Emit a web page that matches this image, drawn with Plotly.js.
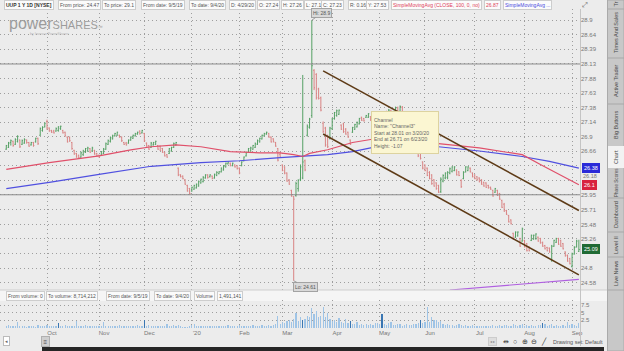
<!DOCTYPE html>
<html><head><meta charset="utf-8">
<script src="https://cdn.plot.ly/plotly-3.0.1.min.js"></script>
<style>html,body{margin:0;padding:0;background:#ececec;overflow:hidden}#chart{width:624px;height:351px}</style>
</head><body><div id="chart"></div>
<script>
// ---- data (daily bars, 9/5/19 .. 9/4/20) ----
const opens=[
26.69,26.72,26.80,26.82,26.77,26.82,26.84,26.77,26.79,26.84,
26.80,26.76,26.80,26.81,26.87,26.92,27.00,27.06,27.15,27.04,
27.00,26.99,26.99,27.00,27.03,27.00,26.97,26.89,26.88,26.80,
26.67,26.62,26.59,26.56,26.60,26.64,26.66,26.70,26.66,26.67,
26.62,26.59,26.59,26.62,26.69,26.77,26.82,26.86,26.91,26.92,
26.92,26.89,26.80,26.79,26.79,26.84,26.87,26.91,26.94,26.99,
26.96,26.95,26.79,26.75,26.72,26.76,26.77,26.75,26.74,26.70,
26.64,26.60,26.62,26.66,26.72,26.76,26.38,26.27,26.25,26.19,
26.10,26.05,26.01,26.04,26.06,26.09,26.14,26.16,26.22,26.27,
26.24,26.25,26.22,26.26,26.29,26.32,26.35,26.40,26.45,26.46,
26.42,26.43,26.42,26.38,26.42,26.50,26.58,26.64,26.66,26.69,
26.72,26.77,26.81,26.86,26.91,26.94,26.95,26.89,26.86,26.80,
26.70,26.60,26.43,26.40,26.30,26.19,26.02,25.92,25.94,26.05,
26.20,26.22,26.50,26.92,27.05,27.25,28.02,27.95,27.70,27.55,
27.12,27.04,26.90,26.87,27.03,27.20,27.25,27.27,27.09,27.11,
27.02,26.97,26.84,26.97,27.02,27.06,27.11,27.22,27.20,27.22,
27.22,27.23,27.17,27.24,27.20,27.04,27.13,27.22,27.30,27.25,
27.33,27.24,27.30,27.38,27.32,27.39,27.24,27.14,27.26,27.17,
27.04,26.88,26.70,26.62,26.48,26.43,26.38,26.31,26.27,26.19,
26.14,26.10,26.00,26.17,26.22,26.23,26.30,26.33,26.34,26.35,
26.32,26.18,26.21,26.32,26.34,26.38,26.30,26.27,26.24,26.22,
26.19,26.15,26.14,26.10,26.07,26.02,25.99,26.02,25.97,25.86,
25.80,25.70,25.62,25.55,25.34,25.28,25.30,25.26,25.22,25.23,
25.18,25.13,25.23,25.25,25.26,25.28,25.26,25.20,25.15,25.12,
25.11,24.93,25.14,25.20,25.26,25.23,25.18,25.05,25.00,24.95,
24.83,25.02,25.13,25.06];
const highs=[
26.76,26.81,26.85,26.83,26.87,26.92,26.85,26.85,26.87,26.85,
26.81,26.81,26.81,26.88,26.88,27.05,27.07,27.13,27.18,27.05,
27.01,27.01,27.05,27.07,27.08,27.01,26.98,26.90,26.90,26.81,
26.68,26.63,26.60,26.65,26.68,26.71,26.73,26.71,26.73,26.68,
26.63,26.60,26.66,26.71,26.80,26.85,26.90,26.93,26.96,26.98,
26.93,26.90,26.81,26.81,26.85,26.90,26.93,26.96,26.98,27.00,
27.01,26.96,26.80,26.76,26.81,26.81,26.83,26.76,26.75,26.71,
26.65,26.61,26.71,26.73,26.80,26.81,26.39,26.28,26.26,26.20,
26.11,26.06,26.08,26.11,26.13,26.18,26.21,26.25,26.28,26.28,
26.28,26.26,26.29,26.33,26.33,26.39,26.43,26.47,26.49,26.47,
26.47,26.44,26.43,26.39,26.49,26.57,26.65,26.71,26.73,26.76,
26.80,26.85,26.88,26.93,26.96,26.98,26.96,26.90,26.87,26.81,
26.71,26.65,26.44,26.41,26.31,26.20,26.03,25.93,26.16,26.20,
26.44,27.94,26.52,27.10,27.21,28.90,28.04,27.97,27.72,27.57,
27.15,27.06,26.93,27.06,27.21,27.31,27.35,27.35,27.10,27.13,
27.04,26.98,26.85,27.06,27.11,27.15,27.21,27.23,27.21,27.26,
27.29,27.24,27.23,27.26,27.22,27.15,27.25,27.32,27.33,27.36,
27.35,27.33,27.40,27.40,27.42,27.41,27.26,27.28,27.28,27.18,
27.05,26.90,26.72,26.63,26.49,26.44,26.39,26.33,26.28,26.20,
26.15,26.11,26.23,26.28,26.31,26.33,26.39,26.41,26.41,26.36,
26.33,26.20,26.33,26.41,26.41,26.39,26.31,26.28,26.25,26.23,
26.20,26.16,26.15,26.11,26.08,26.03,26.06,26.03,25.98,25.87,
25.82,25.71,25.63,25.56,25.35,25.37,25.37,25.27,25.43,25.24,
25.19,25.14,25.32,25.32,25.34,25.29,25.27,25.21,25.16,25.13,
25.12,25.16,25.24,25.27,25.27,25.24,25.19,25.06,25.01,24.96,
25.04,25.14,25.24,25.24];
const lows=[
26.68,26.71,26.75,26.73,26.76,26.80,26.71,26.76,26.78,26.78,
26.73,26.75,26.73,26.80,26.76,26.91,26.98,27.05,27.01,26.98,
26.96,26.95,26.98,26.98,27.01,26.95,26.90,26.80,26.81,26.68,
26.60,26.55,26.54,26.55,26.58,26.63,26.65,26.63,26.65,26.60,
26.57,26.55,26.58,26.61,26.68,26.76,26.80,26.85,26.90,26.91,
26.88,26.81,26.76,26.75,26.78,26.83,26.86,26.90,26.93,26.93,
26.95,26.81,26.73,26.68,26.71,26.75,26.76,26.68,26.66,26.63,
26.57,26.55,26.61,26.65,26.71,26.75,26.25,26.23,26.20,26.11,
26.00,25.95,26.00,26.03,26.05,26.08,26.13,26.15,26.21,26.21,
26.23,26.20,26.21,26.25,26.28,26.31,26.34,26.39,26.44,26.41,
26.41,26.39,26.36,26.28,26.41,26.49,26.57,26.63,26.65,26.68,
26.71,26.76,26.80,26.85,26.90,26.93,26.88,26.80,26.80,26.73,
26.49,26.55,26.33,26.28,26.16,26.11,25.92,24.61,25.92,26.00,
26.17,26.20,26.33,26.90,27.03,27.21,27.68,27.52,27.52,27.32,
26.96,26.73,26.71,26.85,27.01,27.18,27.23,27.26,27.01,26.96,
26.93,26.88,26.76,26.96,27.01,27.05,27.10,27.16,27.15,27.21,
27.21,27.16,27.16,27.10,27.05,27.02,27.12,27.20,27.22,27.23,
27.22,27.22,27.29,27.30,27.30,27.22,27.12,27.12,27.15,27.02,
26.88,26.70,26.56,26.52,26.36,26.33,26.25,26.20,26.11,26.08,
26.03,25.98,25.98,26.15,26.20,26.20,26.28,26.31,26.33,26.26,
26.25,26.06,26.20,26.31,26.33,26.31,26.23,26.20,26.18,26.15,
26.11,26.08,26.06,26.05,26.03,25.92,25.98,25.93,25.87,25.74,
25.68,25.63,25.51,25.48,25.24,25.27,25.29,25.13,25.21,25.12,
25.06,25.06,25.22,25.24,25.24,25.21,25.18,25.13,25.09,25.06,
25.04,24.90,25.13,25.19,25.16,25.13,25.09,24.98,24.90,24.86,
24.81,25.01,25.12,25.05];
const closes=[
26.75,26.79,26.83,26.75,26.85,26.90,26.73,26.83,26.85,26.80,
26.74,26.80,26.75,26.87,26.78,27.03,27.05,27.12,27.04,26.99,
26.97,26.96,27.03,27.06,27.07,26.96,26.91,26.81,26.83,26.70,
26.61,26.56,26.55,26.63,26.66,26.70,26.71,26.64,26.71,26.61,
26.58,26.56,26.65,26.69,26.78,26.83,26.88,26.91,26.95,26.97,
26.89,26.83,26.77,26.76,26.84,26.89,26.92,26.95,26.97,26.95,
27.00,26.83,26.74,26.69,26.79,26.80,26.82,26.69,26.67,26.64,
26.58,26.56,26.70,26.72,26.78,26.80,26.27,26.24,26.21,26.12,
26.01,25.97,26.07,26.10,26.12,26.16,26.20,26.23,26.27,26.23,
26.27,26.21,26.28,26.31,26.32,26.38,26.41,26.46,26.48,26.42,
26.46,26.40,26.37,26.30,26.48,26.56,26.63,26.70,26.71,26.75,
26.78,26.83,26.87,26.92,26.95,26.97,26.89,26.81,26.82,26.74,
26.51,26.56,26.34,26.30,26.17,26.12,25.93,25.88,26.13,26.18,
26.40,26.48,26.35,27.07,27.19,28.10,27.72,27.55,27.54,27.34,
26.98,26.76,26.73,27.04,27.19,27.30,27.33,27.34,27.02,26.98,
26.94,26.89,26.77,27.05,27.10,27.13,27.20,27.17,27.16,27.25,
27.28,27.17,27.22,27.23,27.07,27.13,27.23,27.30,27.25,27.34,
27.24,27.31,27.38,27.32,27.40,27.24,27.14,27.26,27.17,27.04,
26.90,26.72,26.58,26.54,26.38,26.34,26.26,26.21,26.13,26.09,
26.05,25.99,26.20,26.26,26.30,26.31,26.37,26.40,26.40,26.27,
26.26,26.08,26.31,26.40,26.40,26.32,26.24,26.21,26.19,26.16,
26.12,26.09,26.07,26.06,26.04,25.93,26.05,25.94,25.88,25.75,
25.69,25.64,25.52,25.49,25.25,25.36,25.36,25.14,25.41,25.13,
25.07,25.07,25.31,25.31,25.33,25.22,25.19,25.14,25.10,25.07,
25.05,25.14,25.23,25.26,25.17,25.14,25.10,24.99,24.91,24.87,
25.02,25.12,25.22,25.09];
// volume in millions
const volumes=[
0.6,0.9,0.5,0.7,0.8,1.8,0.6,0.5,0.7,0.4,
0.6,0.8,0.5,0.4,0.9,0.6,0.7,0.5,1.0,0.6,
0.8,0.7,0.5,1.5,0.7,0.6,0.9,0.5,0.8,0.7,
0.6,2.3,0.8,0.7,0.5,0.9,0.6,0.8,0.5,0.7,
0.6,0.8,0.7,2.0,0.5,0.6,0.8,0.5,0.6,0.7,
0.9,0.5,0.6,0.8,0.5,0.7,0.6,0.5,0.9,0.6,
0.8,2.6,0.7,0.9,0.6,0.5,0.8,0.6,0.7,0.5,
0.7,1.4,0.6,0.5,0.9,0.6,1.1,0.5,0.4,0.3,
0.4,0.6,0.9,1.4,0.6,0.7,0.5,0.8,0.6,0.5,
0.7,0.6,0.5,0.8,0.6,0.7,0.5,0.6,0.9,0.5,
0.6,0.8,0.7,0.9,0.5,0.6,0.8,0.7,0.6,0.9,
0.7,0.6,0.8,0.9,0.7,0.6,1.0,0.8,0.9,1.2,
4.0,1.2,2.0,1.5,2.2,2.5,2.0,3.0,5.0,2.2,
3.5,2.5,2.8,4.0,3.5,6.5,4.5,5.5,3.5,4.0,
7.0,3.5,4.8,3.0,2.2,2.5,1.8,3.2,2.0,1.6,
2.8,1.5,2.2,1.3,1.2,1.8,1.0,1.4,1.1,1.3,
1.0,1.2,0.9,1.5,1.5,1.3,4.5,1.2,1.0,1.6,
2.0,1.1,0.9,1.3,1.2,0.8,1.0,1.4,0.9,1.1,
1.3,1.2,1.6,2.7,1.5,1.8,6.7,2.0,3.7,2.5,
2.5,1.8,2.2,1.2,1.0,1.4,0.9,1.1,0.8,1.0,
1.2,0.9,0.7,1.1,0.8,0.6,0.9,0.5,0.7,0.6,
0.8,0.5,0.6,0.7,0.5,0.9,0.6,0.8,1.0,0.7,
0.9,1.1,0.8,0.6,1.3,0.9,0.7,1.0,1.2,0.8,
0.9,0.7,1.0,0.8,0.6,1.1,0.9,1.5,1.3,0.7,
1.0,1.4,0.8,0.9,0.7,0.6,1.0,0.8,1.8,0.9,
1.2,1.0,0.8,1.5];
const darkVolumeBars=[23,61,131,152,166,183,237];

const monthTickIdx=[18,41,61,82,103,122,144,165,185,207,229,250];
const monthTickText=['Oct','Nov','Dec',"'20",'Feb','Mar','Apr','May','Jun','Jul','Aug','Sep'];
// grid levels of the price pane; labels under the value boxes are hidden there
const priceTicks=[28.9,28.64,28.39,28.13,27.88,27.63,27.38,27.14,26.9,26.66,26.42,26.18,25.95,25.71,25.48,25.26,25.03,24.8,24.58];
const hiddenPriceLabels=[26.42,26.18,25.03];
const volumeTicks=[2.5,5,7.5];

const sma100Idx=[0,19,41,55,64,75,86,99,112,121,127,131,134,142,153,161,174,191,209,228,236,245,253];
const sma100Val=[26.36,26.47,26.58,26.68,26.73,26.76,26.73,26.65,26.63,26.63,26.60,26.57,26.62,26.68,26.80,26.85,26.87,26.78,26.71,26.60,26.44,26.26,26.11];
const sma200Idx=[0,19,41,64,86,103,121,131,142,153,161,174,191,209,228,240,253];
const sma200Val=[26.05,26.15,26.28,26.41,26.47,26.50,26.55,26.57,26.60,26.65,26.71,26.75,26.73,26.66,26.57,26.49,26.38];
const lowerStudyIdx=[196,230,253];
const lowerStudyVal=[24.47,24.56,24.63];
const channelIdx=[140,253];
const channelUpper=[28.01,25.70];
const channelLower=[26.94,24.70];
const levelLines=[28.13,25.95];

// ---- drawing ----
const F='"Liberation Sans", Arial, sans-serif';
const W=624,H=351;
const PX=x=>x/W, PY=y=>1-y/H;
const X_RANGE=[-2.78,253.5];
const idx=closes.map((_,i)=>i);
const L10=v=>Math.log10(v);

const traces=[];
levelLines.forEach(v=>traces.push({type:'scatter',mode:'lines',x:X_RANGE,y:[v,v],line:{color:'#8a8a8a',width:1},hoverinfo:'skip'}));
traces.push({type:'scatter',mode:'lines',x:sma200Idx,y:sma200Val,line:{color:'#5050e0',width:1.2},hoverinfo:'skip'});
traces.push({type:'scatter',mode:'lines',x:sma100Idx,y:sma100Val,line:{color:'#e0506a',width:1.2},hoverinfo:'skip'});
traces.push({type:'scatter',mode:'lines',x:lowerStudyIdx,y:lowerStudyVal,line:{color:'#b060e0',width:1.2},hoverinfo:'skip'});
traces.push({type:'ohlc',x:idx,open:opens,high:highs,low:lows,close:closes,xaxis:'x',yaxis:'y',
  increasing:{line:{color:'#55a064',width:1}},decreasing:{line:{color:'#d98383',width:1}},tickwidth:0.4,hoverinfo:'skip'});
traces.push({type:'scatter',mode:'lines',x:channelIdx,y:channelUpper,line:{color:'#5e3b17',width:1.6},hoverinfo:'skip'});
traces.push({type:'scatter',mode:'lines',x:channelIdx,y:channelLower,line:{color:'#5e3b17',width:1.6},hoverinfo:'skip'});
traces.push({type:'bar',x:idx,y:volumes,xaxis:'x',yaxis:'y2',width:0.55,
  marker:{color:idx.map(i=>darkVolumeBars.includes(i)?'#3a76b2':'#9fc4e6'),line:{width:0}},hoverinfo:'skip'});

const ann=[];
const NOBOX={bg:'rgba(0,0,0,0)',border:'rgba(0,0,0,0)',bw:0,pad:0};
function box(x,y,text,o){o=o||{};ann.push({xref:'paper',yref:'paper',x:PX(x),y:PY(y),xanchor:'left',yanchor:'middle',text:text,showarrow:false,
  font:{size:o.size||5,color:o.color||'#555',family:F},bgcolor:o.bg===undefined?'#fbfbfb':o.bg,bordercolor:o.border===undefined?'#cdcdcd':o.border,
  borderwidth:o.bw===undefined?1:o.bw,borderpad:o.pad===undefined?1:o.pad});}

// header row
[['<b>UUP 1 Y 1D [NYSE]</b>',4,'#333'],['From price: 24.47',58],['To price: 29.1',102],['From date: 9/5/19',141],['To date: 9/4/20',189],
 ['D: 4/29/20',229],['O: 27.24',257],['H: 27.26',281],['L: 27.1',304],['C: 27.23',321],['R: 0.16',348],['Y: 27.53',366],
 ['SimpleMovingAvg (CLOSE, 100, 0, no)',391,'#e0405a'],['26.87',484,'#e0405a'],['SimpleMovingAvg ...',503,'#4a4ae0']]
 .forEach(h=>box(h[1],5,h[0],{color:h[2]||'#555'}));
box(582,5,'⤢',Object.assign({size:7,color:'#666'},NOBOX));

// watermark
box(9,23,'<span style="font-size:16px">power</span><span style="font-size:11px">SHARES</span><span style="font-size:5px">™</span>',Object.assign({size:16,color:'#9c9c9c'},NOBOX));
box(30,33.5,'by Invesco PowerShares',Object.assign({size:3.5,color:'#b3b3b3'},NOBOX));

// volume header row
[['From volume: 0',6],['To volume: 8,714,212',46],['From date: 9/5/19',106],['To date: 9/4/20',154],['Volume',194],['1,491,141',217]]
 .forEach(h=>box(h[1],296,h[0]));

// last value boxes on price axis
function valBox(v,text,bg){ann.push({xref:'paper',yref:'y',x:PX(582),y:L10(v),xanchor:'left',yanchor:'middle',text:text,showarrow:false,
  font:{size:5.5,color:'#fff',family:F},bgcolor:bg,bordercolor:bg,borderwidth:1,borderpad:1});}
valBox(sma200Val[sma200Val.length-1],'26.38','#2a2ad8');
valBox(sma100Val[sma100Val.length-1],'26.1','#d8243e');
valBox(closes[closes.length-1],'25.09','#1f6a34');
// partly covered grid label just above the red box
box(583,175.5,'26.18',Object.assign({size:5.5,color:'#777'},NOBOX));

// hi / lo markers
ann.push({xref:'x',yref:'y',x:135,y:L10(28.9),text:'Hi: 28.9',showarrow:true,arrowhead:0,arrowwidth:0.8,arrowcolor:'#8a8a8a',ax:10,ay:-7,
  font:{size:5,color:'#555',family:F},bgcolor:'#d9d9d9',bordercolor:'#a3a3a3',borderwidth:1,borderpad:1});
ann.push({xref:'x',yref:'y',x:127,y:L10(24.61),text:'Lo: 24.61',showarrow:true,arrowhead:0,arrowwidth:0.8,arrowcolor:'#8a8a8a',ax:12,ay:6,
  font:{size:5,color:'#555',family:F},bgcolor:'#d9d9d9',bordercolor:'#a3a3a3',borderwidth:1,borderpad:1});

// channel tooltip
ann.push({xref:'paper',yref:'paper',x:PX(371),y:PY(111),xanchor:'left',yanchor:'top',align:'left',showarrow:false,width:62,height:37,
  text:'Channel<br>Name: "Channel3"<br>Start at 28.01 on 3/20/20<br>End at 26.71 on 6/23/20<br>Height: -1.07',
  font:{size:5,color:'#666',family:F},bgcolor:'#fbf6d2',bordercolor:'#ddd3a0',borderwidth:1,borderpad:2});

// right side tabs
[['Tr',4.5,5.5],['Times And Sales',33,5.5],['Active Trader',81,5.5],['Big Buttons',125,5.5],['Chart',157,5.5],['Phase Scores',183,4.6],['Dashboard',215,5.5],['Level II',245,5.5],['Live News',273,5.5]]
 .forEach(t=>ann.push({xref:'paper',yref:'paper',x:PX(616),y:PY(t[1]),xanchor:'center',yanchor:'middle',textangle:-90,text:t[0],showarrow:false,
  font:{size:t[2],color:'#4a4a4a',family:F}}));

// bottom toolbar
box(3,341,'◂',{size:5,color:'#666',bg:'#fff',border:'#bbb'});
box(41,341,'≡',{size:6,color:'#444',bg:'#cfcfcf',border:'#b0b0b0',pad:1.5});
box(488,341,'◂ ▸',{size:4,color:'#888',bg:'#dedede',border:'#ccc'});
[['⇹',503],['○',513],['⊕',522],['⊖',531],['╱',541]].forEach(t=>box(t[1],341,t[0],Object.assign({size:7,color:'#333'},NOBOX)));
box(553,342,'Drawing set: Default',Object.assign({size:5.5,color:'#555'},NOBOX));

const shapes=[
 {type:'rect',xref:'paper',yref:'paper',x0:0,x1:PX(607),y0:PY(301),y1:PY(290),fillcolor:'#f5f5f5',line:{width:0},layer:'below'},
 {type:'line',xref:'paper',yref:'paper',x0:0,x1:PX(607),y0:PY(290),y1:PY(290),line:{color:'#cfcfcf',width:1}},
 {type:'line',xref:'paper',yref:'paper',x0:PX(580.5),x1:PX(580.5),y0:PY(9),y1:PY(346),line:{color:'#c4c4c4',width:1}},
 {type:'rect',xref:'paper',yref:'paper',x0:PX(607.5),x1:1,y0:0,y1:1,fillcolor:'#c8c8c8',line:{color:'#aaa',width:1},layer:'below'},
 {type:'rect',xref:'paper',yref:'paper',x0:PX(608),x1:1,y0:PY(168),y1:PY(146),fillcolor:'#f2f2f2',line:{width:0},layer:'below'},
 {type:'rect',xref:'paper',yref:'paper',x0:PX(42),x1:PX(604),y0:0,y1:PY(347),fillcolor:'#262626',line:{width:0}},
];
[9,58,104,198,232,257,290].forEach(y=>shapes.push({type:'line',xref:'paper',yref:'paper',x0:PX(608),x1:1,y0:PY(y),y1:PY(y),line:{color:'#a8a8a8',width:1}}));

const gridStyle={showgrid:true,gridcolor:'#9e9e9e',griddash:'1px,3px',gridwidth:1,zeroline:false,showline:false,ticks:''};
const layout={
 width:W,height:H,margin:{l:0,r:0,t:0,b:0},paper_bgcolor:'#ececec',plot_bgcolor:'#ececec',showlegend:false,
 xaxis:Object.assign({},gridStyle,{domain:[0,580/W],range:X_RANGE,anchor:'y2',tickmode:'array',tickvals:monthTickIdx,ticktext:monthTickText,
   tickfont:{size:6,color:'#777',family:F},ticklabelshift:5,rangeslider:{visible:false},fixedrange:true}),
 yaxis:Object.assign({},gridStyle,{domain:[PY(290),PY(9)],type:'log',range:[L10(24.47),L10(29.1)],side:'right',anchor:'x',
   tickmode:'array',tickvals:priceTicks,ticktext:priceTicks.map(v=>hiddenPriceLabels.includes(v)?'':String(v)),tickfont:{size:6,color:'#777',family:F},fixedrange:true}),
 yaxis2:Object.assign({},gridStyle,{domain:[PY(328),PY(300)],range:[0,9.13],side:'right',anchor:'x',
   tickmode:'array',tickvals:volumeTicks,ticktext:volumeTicks.map(String),tickfont:{size:6,color:'#777',family:F},fixedrange:true}),
 annotations:ann,shapes:shapes,bargap:0
};
Plotly.newPlot('chart',traces,layout,{staticPlot:true,displayModeBar:false});
</script></body></html>
